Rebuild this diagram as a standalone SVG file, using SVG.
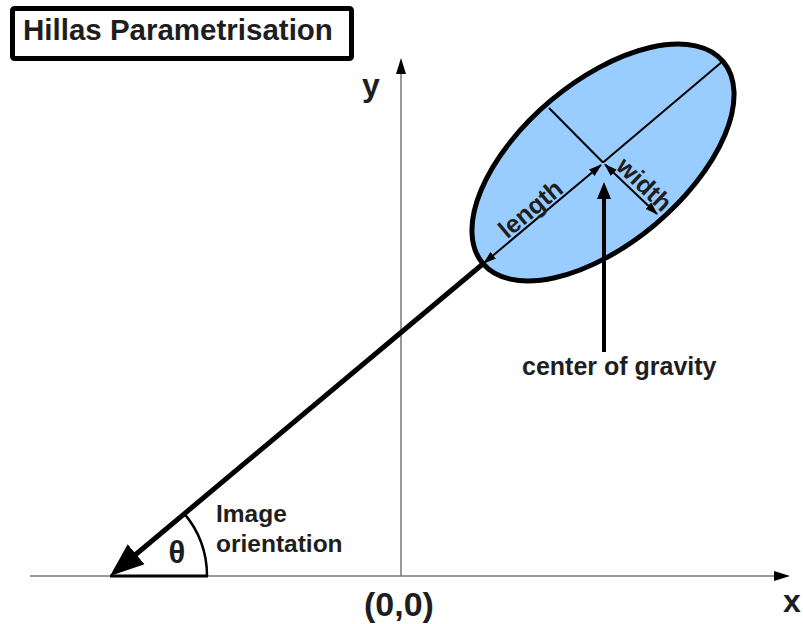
<svg xmlns="http://www.w3.org/2000/svg" width="803" height="624" viewBox="0 0 803 624">
<style>
text{font-family:"Liberation Sans",Arial,sans-serif;font-weight:bold;fill:#1e1e1e}
.axis{stroke:#777;stroke-width:1.5;fill:none}
.thin{stroke:#000;stroke-width:2;fill:none}
</style>
<defs>
<marker id="ah-axis" markerUnits="userSpaceOnUse" viewBox="0 -6 16 12" refX="1" refY="0" markerWidth="16" markerHeight="12" orient="auto">
<path d="M0,-5 L16,0 L0,5 z" fill="#000"/>
</marker>
<marker id="ah-small" markerUnits="userSpaceOnUse" viewBox="0 -5 13 10" refX="12" refY="0" markerWidth="13" markerHeight="10" orient="auto-start-reverse">
<path d="M0,-4.3 L13,0 L0,4.3 z" fill="#000"/>
</marker>
<marker id="ah-big" markerUnits="userSpaceOnUse" viewBox="0 -14 36 28" refX="4" refY="0" markerWidth="36" markerHeight="28" orient="auto">
<path d="M0,-13 L34,0 L0,13 z" fill="#000"/>
</marker>
<marker id="ah-cog" markerUnits="userSpaceOnUse" viewBox="0 -8 18 16" refX="2" refY="0" markerWidth="18" markerHeight="16" orient="auto">
<path d="M0,-7 L17,0 L0,7 z" fill="#000"/>
</marker>
</defs>

<g id="title">
<rect x="12.5" y="8.5" width="339" height="50" rx="2" fill="#fff" stroke="#000" stroke-width="5"/>
<text x="23" y="40" font-size="29.5">Hillas Parametrisation</text>
</g>

<g id="axes">
<line class="axis" x1="30" y1="576" x2="775" y2="576" marker-end="url(#ah-axis)"/>
<line class="axis" x1="401" y1="576" x2="401" y2="73" marker-end="url(#ah-axis)"/>
<text x="362" y="96" font-size="32">y</text>
<text x="783" y="612" font-size="32">x</text>
<text x="399" y="616" font-size="34" text-anchor="middle">(0,0)</text>
</g>

<g id="ellipse">
<ellipse cx="603" cy="162.5" rx="157" ry="81" transform="rotate(-40 603 162.5)" fill="#99ccff" stroke="#000" stroke-width="5"/>
</g>

<g id="connectors">
<line class="thin" x1="603" y1="162.5" x2="723" y2="61"/>
<line class="thin" x1="549" y1="108" x2="603" y2="162.5"/>
<line class="thin" x1="601" y1="165" x2="484" y2="263" marker-start="url(#ah-small)" marker-end="url(#ah-small)"/>
<line class="thin" x1="605" y1="164.5" x2="657" y2="214" marker-start="url(#ah-small)" marker-end="url(#ah-small)"/>
<line x1="484" y1="263" x2="133" y2="556.75" stroke="#000" stroke-width="5" marker-end="url(#ah-big)"/>
<line x1="604" y1="352" x2="604" y2="197" stroke="#000" stroke-width="4" marker-end="url(#ah-cog)"/>
<line x1="110" y1="576" x2="208" y2="576" stroke="#000" stroke-width="3"/>
<path d="M207,576 A97,97 0 0 0 184.3,513.6" fill="none" stroke="#000" stroke-width="2.5"/>
</g>

<g id="labels">
<text x="0" y="0" font-size="25" transform="translate(536 215.5) rotate(-40)" text-anchor="middle">length</text>
<text x="0" y="0" font-size="25" transform="translate(638.5 190.5) rotate(43.6)" text-anchor="middle">width</text>
<text x="522" y="375" font-size="25">center of gravity</text>
<text x="177" y="563" font-size="31" text-anchor="middle">θ</text>
<text x="216" y="522" font-size="24.5">Image</text>
<text x="216" y="552" font-size="24.5">orientation</text>
</g>
</svg>
